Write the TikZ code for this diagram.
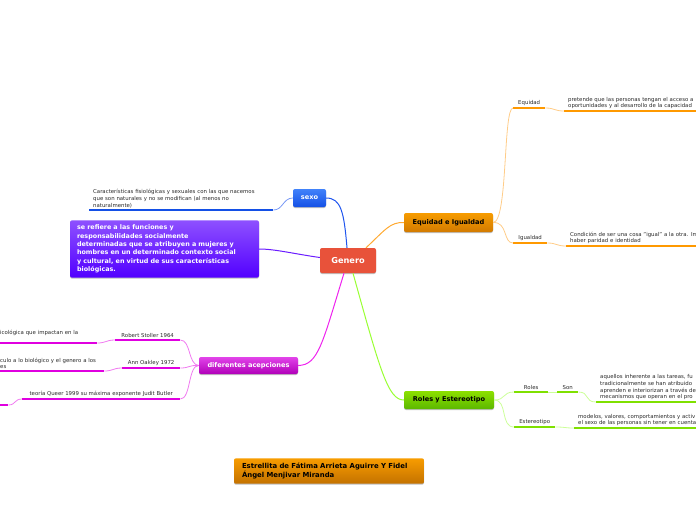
\documentclass[tikz,border=0pt]{standalone}
\usepackage{fontspec}
\setmainfont{DejaVu Sans}
\usetikzlibrary{shadows}

\definecolor{generored}{HTML}{E8523A}
\definecolor{sexotop}{HTML}{4182FA}
\definecolor{sexobot}{HTML}{1450E6}
\definecolor{sexoline}{HTML}{1F55EE}
\definecolor{purtop}{HTML}{8E50FF}
\definecolor{purbot}{HTML}{5200FF}
\definecolor{purline}{HTML}{6A1CFF}
\definecolor{orgtop}{HTML}{F79C00}
\definecolor{orgbot}{HTML}{D27A00}
\definecolor{autbot}{HTML}{C47200}
\definecolor{orgline}{HTML}{FF9900}
\definecolor{orgsub}{HTML}{FFCC88}
\definecolor{orgmain}{HTML}{FFAA33}
\definecolor{grntop}{HTML}{8CE000}
\definecolor{grnbot}{HTML}{5CB800}
\definecolor{grnline}{HTML}{7FE000}
\definecolor{grnsub}{HTML}{CCFF99}
\definecolor{grnmain}{HTML}{99FF33}
\definecolor{magtop}{HTML}{E244EA}
\definecolor{magbot}{HTML}{B000B8}
\definecolor{magline}{HTML}{E000E0}
\definecolor{magsub}{HTML}{F07AF0}
\definecolor{magmain}{HTML}{EE22EE}
\definecolor{leafgray}{HTML}{2A2A2A}

\begin{document}
\begin{tikzpicture}[x=1pt,y=-1pt,
  box/.style={rounded corners=2pt, inner sep=2pt, font=\fontsize{6.6}{8}\selectfont\bfseries,
    drop shadow={shadow xshift=0pt,shadow yshift=-1pt,opacity=0.25,fill=black}},
  leaf/.style={anchor=south west, inner xsep=4pt, inner ysep=2pt, align=left, text=leafgray,
    font=\fontsize{5.4}{6.6}\selectfont},
  rama/.style={line width=1pt},
  sub/.style={line width=0.8pt},
  underline/.style={line width=2.4pt}]
\useasboundingbox (0,0) rectangle (696,520);
\clip (0,0) rectangle (696,520);

% main topics
\node[box, fill=generored, text=white, minimum width=56pt, minimum height=25pt,
  font=\fontsize{8.2}{9}\selectfont\bfseries] (genero) at (348,260.5) {Genero};
\node[box, top color=sexotop, bottom color=sexobot, text=white, minimum width=33pt, minimum height=18pt] (sexo) at (309.5,198) {sexo};
\node[box, top color=purtop, bottom color=purbot, text=white, text width=175pt, inner xsep=7pt, inner ysep=4.5pt,
  align=left, font=\fontsize{6.4}{8.4}\selectfont\bfseries] (funciones) at (164.5,249)
  {se refiere a las funciones y\\responsabilidades socialmente\\determinadas que se atribuyen a mujeres y\\hombres en un determinado contexto social\\y cultural, en virtud de sus características\\biológicas.};
\node[box, top color=orgtop, bottom color=orgbot, minimum width=89pt, minimum height=19pt] (equidad) at (448.5,222.5) {Equidad e Igualdad};
\node[box, top color=grntop, bottom color=grnbot, minimum width=90pt, minimum height=18pt] (roles) at (449,400) {Roles y Estereotipo};
\node[box, top color=magtop, bottom color=magbot, text=white, minimum width=99pt, minimum height=17pt] (acepciones) at (248.5,365.5) {diferentes acepciones};
\node[box, top color=orgtop, bottom color=autbot, text width=174pt, inner xsep=8pt, inner ysep=4.5pt, align=left,
  font=\fontsize{6.9}{9.4}\selectfont\bfseries] (autores) at (329,471) {Estrellita de Fátima Arrieta Aguirre Y Fidel\\Ángel Menjivar Miranda};

% leaves
\node[leaf, text width=176pt] (sexohoja) at (89,210) {Características fisiológicas y sexuales con las que nacemos\\que son naturales y no se modifican (al menos no\\naturalmente)};
\node[leaf, minimum width=32pt] (equidadh) at (513,108) {Equidad};
\node[leaf, text width=200pt] (equidadt) at (564,111) {pretende que las personas tengan el acceso a\\oportunidades y al desarrollo de la capacidad};
\node[leaf, minimum width=34pt] (igualdadh) at (513,243) {Igualdad};
\node[leaf, text width=200pt] (igualdadt) at (566,246) {Condición de ser una cosa "igual" a la otra. Im\\haber paridad e identidad};
\node[leaf, minimum width=34pt] (rolesh) at (514,392) {Roles};
\node[leaf, minimum width=21pt] (son) at (557,392) {Son};
\node[leaf, text width=200pt] (sont) at (596,402) {aquellos inherente a las tareas, fu\\tradicionalmente se han atribuido\\aprenden e interiorizan a través de\\mecanismos que operan en el pro};
\node[leaf, minimum width=41pt] (esteh) at (514,427) {Estereotipo};
\node[leaf, text width=200pt] (estet) at (574,428) {modelos, valores, comportamientos y activ\\el sexo de las personas sin tener en cuenta};
\node[leaf, minimum width=65pt] (stoller) at (115,340) {Robert Stoller 1964};
\node[leaf, text width=93pt] (stollert) at (-4,343) {icológica que impactan en la\\\mbox{}};
\node[leaf, minimum width=58pt] (oakley) at (122,368) {Ann Oakley 1972};
\node[leaf, text width=100pt] (oakleyt) at (-4,371) {culo a lo biológico y el genero a los\\es};
\node[leaf, minimum width=158pt] (queer) at (22,399) {teoría Queer 1999 su máxima exponente Judit Butler};
\node[leaf, minimum width=12pt] (queert) at (-4,405) {};

\foreach \n/\c in {sexohoja/sexobot,equidadh/orgline,equidadt/orgline,igualdadh/orgline,igualdadt/orgline,
  rolesh/grnline,son/grnline,sont/grnline,esteh/grnline,estet/grnline,
  stoller/magline,stollert/magline,oakley/magline,oakleyt/magline,queer/magline,queert/magline} {
\draw[underline,\c] (\n.south west) -- (\n.south east);
}

% connectors from Genero
\draw[rama,sexoline] ([xshift=-1pt]genero.north) .. controls (344,212) and (341,198) .. (sexo.east);
\draw[rama,purline] ([yshift=3pt]genero.west) .. controls (295,254) and (275,249) .. (funciones.east);
\draw[rama,orgmain] ([xshift=18pt]genero.north) .. controls (385,230) and (390,222) .. (equidad.west);
\draw[rama,grnmain] ([xshift=5pt]genero.south) .. controls (380,370) and (388,400) .. (roles.west);
\draw[rama,magmain] ([xshift=-4pt]genero.south) .. controls (322,345) and (318,365) .. (acepciones.east);

% sub connectors
\draw[sub,sexoline!60] (sexo.west) .. controls (283,198) and (283,210) .. (sexohoja.south east);
\draw[sub,orgsub] (equidad.east) .. controls (508,222) and (503,108) .. (equidadh.south west);
\draw[sub,orgsub] (equidad.east) .. controls (508,222) and (503,243) .. (igualdadh.south west);
\draw[sub,orgsub] (equidadh.south east) .. controls (555,108) and (554,111) .. (equidadt.south west);
\draw[sub,orgsub] (igualdadh.south east) .. controls (557,243) and (556,246) .. (igualdadt.south west);
\draw[sub,grnsub] (roles.east) .. controls (506,400) and (502,392) .. (rolesh.south west);
\draw[sub,grnsub] (roles.east) .. controls (508,400) and (500,427) .. (esteh.south west);
\draw[sub,grnsub] (rolesh.south east) -- (son.south west);
\draw[sub,grnsub] (son.south east) .. controls (590,392) and (584,402) .. (sont.south west);
\draw[sub,grnsub] (esteh.south east) .. controls (566,427) and (564,428) .. (estet.south west);
\draw[sub,magsub] (acepciones.west) .. controls (188,365) and (191,340) .. (stoller.south east);
\draw[sub,magsub] (acepciones.west) .. controls (188,365) and (190,368) .. (oakley.south east);
\draw[sub,magsub] (acepciones.west) .. controls (188,365) and (191,399) .. (queer.south east);
\draw[sub,magsub] (stoller.south west) .. controls (106,340) and (106,343) .. (stollert.south east);
\draw[sub,magsub] (oakley.south west) .. controls (113,368) and (113,371) .. (oakleyt.south east);
\draw[sub,magsub] (queer.south west) .. controls (14,399) and (16,405) .. (queert.south east);
\end{tikzpicture}
\end{document}
